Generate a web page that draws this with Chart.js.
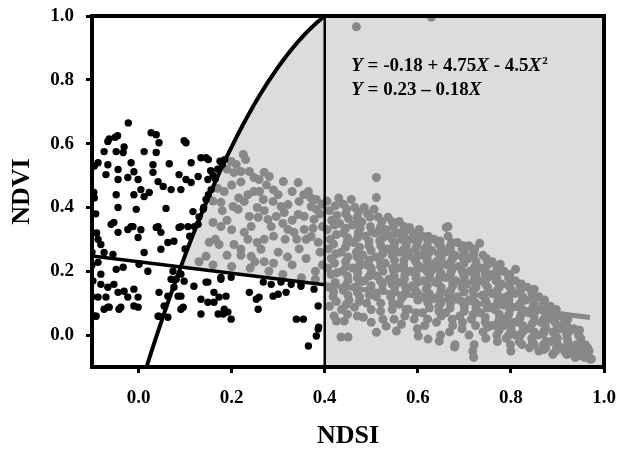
<!DOCTYPE html>
<html>
<head>
<meta charset="utf-8">
<script src="https://cdn.jsdelivr.net/npm/chart.js@4.4.0/dist/chart.umd.min.js"></script>
<style>html,body{margin:0;padding:0;background:#fff;}canvas{display:block;}</style>
</head>
<body>
<canvas id="c" width="619" height="449"></canvas>
<script>
// ---- data ----
const xTicks = [0.0, 0.2, 0.4, 0.6, 0.8, 1.0];
const yTicks = [0.0, 0.2, 0.4, 0.6, 0.8, 1.0];
const xRange = [-0.1, 1.0];
const yRange = [-0.1, 1.0];
const quadFit = [-0.18, 4.75, -4.5];   // Y = a + bX + cX^2
const linFit = [0.23, -0.18];          // Y = a + bX
const splitX = 0.4;
const linEndX = 0.97;

const blackPts = [
[-0.022,0.665],[-0.05,0.62],[-0.045,0.625],[-0.063,0.615],[-0.066,0.607],[0.027,0.634],[0.038,0.628],[0.044,0.603],
[0.098,0.609],[0.102,0.603],[-0.074,0.575],[-0.048,0.575],[-0.031,0.59],[-0.033,0.572],[0.012,0.575],[0.038,0.572],
[0.113,0.54],[0.134,0.556],[0.145,0.556],[-0.087,0.54],[-0.066,0.534],[-0.07,0.503],[-0.044,0.519],[-0.016,0.54],
[-0.01,0.512],[0.031,0.534],[0.031,0.51],[0.066,0.537],[0.087,0.503],[-0.044,0.4875],[-0.023,0.494],[-0.001,0.4875],
[0.005,0.456],[0.023,0.447],[0.042,0.481],[0.053,0.466],[0.07,0.456],[0.091,0.456],[0.102,0.4875],[0.113,0.478],
[0.128,0.497],[0.149,0.4875],[0.156,0.456],[0.145,0.425],[-0.096,0.447],[-0.048,0.44],[-0.01,0.44],[0.012,0.434],
[-0.044,0.4],[-0.005,0.394],[0.059,0.397],[0.117,0.387],[0.139,0.394],[-0.053,0.353],[-0.016,0.34],[0.005,0.33],
[0.042,0.34],[0.087,0.3375],[0.106,0.34],[0.128,0.347],
[-0.059,0.347],[-0.044,0.322],[-0.023,0.331],[-0.001,0.306],[-0.012,0.34],[0.038,0.3375],[0.048,0.322],[0.091,0.34],
[0.076,0.294],[0.063,0.29],[0.048,0.269],[0.012,0.259],[-0.087,0.3],[-0.081,0.284],[-0.074,0.259],[-0.055,0.253],
[0.16,0.5],[0.17,0.52],[0.175,0.545],[0.18,0.535],[0.165,0.49],[0.15,0.44],[0.14,0.4],[0.13,0.37],[0.12,0.34],
[0.11,0.31],[0.1,0.27],[0.185,0.55],[0.155,0.515],[0.15,0.55],
[-0.095,0.53],[-0.095,0.43],[-0.1,0.26],[-0.1,0.22],[-0.098,0.17],[-0.1,0.12],[-0.095,0.06],[-0.09,0.32],[-0.092,0.38],
[-0.087,0.228],[-0.081,0.191],[-0.081,0.159],[-0.087,0.119],[-0.066,0.15],[-0.07,0.119],[-0.066,0.0875],[-0.048,0.206],
[-0.033,0.2125],[-0.053,0.159],[-0.044,0.134],[-0.031,0.1375],[-0.023,0.119],[-0.038,0.0875],[-0.01,0.144],[-0.001,0.119],
[-0.001,0.0875],[0.001,0.222],[0.02,0.2],[0.044,0.134],[0.042,0.059],[0.063,0.056],[0.081,0.175],[0.091,0.122],
[0.096,0.0875],[0.119,0.153],[0.134,0.1125],[0.134,0.066],[0.145,0.166],[0.162,0.134],[0.173,0.119],[0.171,0.066],
[0.192,0.072],[0.199,0.05],[0.177,0.181],[0.199,0.181],[0.238,0.134],[0.253,0.1125],[0.257,0.081],[0.3,0.128],
[0.285,0.159],[0.339,0.05],[0.354,0.05],[0.365,-0.034],[0.382,-0.003],[0.387,0.025],[0.328,0.159],[0.349,0.159],
[0.149,0.166],[0.177,0.175],[0.268,0.166],[0.306,0.166],[0.349,0.153],[0.377,0.144],[0.386,0.091],[0.386,0.019],
[0.259,0.119],[0.289,0.122],[0.317,0.134],[0.188,0.122],[0.149,0.103],[0.162,0.103],[0.184,0.081],[0.182,0.066],
[0.07,0.175],[0.076,0.15],[0.063,0.122],[0.055,0.091],[0.044,0.059],[0.085,0.122],[0.091,0.081],[0.074,0.2],
[0.091,0.191],[0.098,0.169],[-0.091,0.059],[-0.074,0.081],[-0.063,0.0875],[-0.042,0.081],[-0.01,0.091]
];

const grayPts = [
[0.225,0.566],[0.199,0.544],[0.205,0.509],[0.22,0.5125],[0.238,0.5125],[0.248,0.494],[0.259,0.4875],[0.281,0.497],
[0.311,0.481],[0.343,0.478],[0.365,0.45],[0.382,0.425],[0.184,0.45],[0.203,0.403],[0.227,0.419],[0.248,0.45],
[0.268,0.425],[0.289,0.419],[0.306,0.403],[0.321,0.409],[0.345,0.419],[0.371,0.403],[0.382,0.394],[0.177,0.416],
[0.214,0.394],[0.238,0.372],[0.257,0.369],[0.278,0.3625],[0.296,0.372],[0.313,0.384],[0.343,0.378],[0.356,0.372],
[0.377,0.3625],[0.16,0.353],[0.177,0.34],[0.152,0.291],[0.173,0.284],[0.227,0.322],[0.242,0.34],[0.285,0.34],
[0.321,0.331],[0.334,0.322],[0.356,0.331],[0.371,0.309],[0.386,0.291],[0.205,0.284],[0.22,0.269],[0.242,0.247],
[0.145,0.247],[0.263,0.269],[0.13,0.23],[0.16,0.22],[0.2,0.215],[0.24,0.21],[0.28,0.2],[0.31,0.19],[0.35,0.18],
[0.38,0.175],[0.27,0.23],[0.33,0.22],[0.36,0.24],[0.22,0.25],[0.3,0.26],[0.345,0.27],[0.39,0.26],[0.19,0.52],
[0.17,0.46],[0.16,0.42],
[0.26,0.45],[0.275,0.47],[0.29,0.455],[0.3,0.44],[0.33,0.45],[0.355,0.44],[0.37,0.43],[0.395,0.41],[0.39,0.38],
[0.395,0.34],[0.375,0.335],[0.36,0.3],[0.34,0.3],[0.315,0.3],[0.29,0.31],[0.27,0.3],[0.255,0.29],[0.235,0.3],
[0.2,0.33],[0.19,0.36],[0.2,0.47],[0.22,0.48],[0.235,0.44],[0.18,0.39],[0.165,0.3],[0.19,0.25],[0.25,0.23],
[0.29,0.225],[0.32,0.245],[0.38,0.2],[0.395,0.22],[0.31,0.35],[0.33,0.36],[0.27,0.39],[0.255,0.4],[0.215,0.43],
[0.23,0.55],[0.21,0.535],[0.27,0.51],
[0.405,0.42],[0.41,0.39],[0.415,0.36],[0.405,0.33],[0.412,0.30],[0.408,0.27],[0.414,0.24],[0.406,0.21],[0.414,0.19],
[0.41,0.15],[0.418,0.12],[0.41,0.09],[0.42,0.06],[0.425,0.044],[0.435,-0.006],
[0.43,0.43],[0.44,0.41],[0.445,0.38],[0.432,0.35],[0.44,0.32],[0.448,0.29],[0.435,0.26],[0.445,0.23],[0.438,0.2],
[0.45,0.17],[0.44,0.14],[0.452,0.11],[0.442,0.044],[0.45,-0.006],[0.436,0.08],
[0.457,0.425],[0.465,0.40],[0.47,0.37],[0.46,0.345],[0.472,0.32],[0.462,0.29],[0.468,0.26],[0.475,0.235],[0.46,0.21],
[0.47,0.18],[0.465,0.15],[0.475,0.12],[0.464,0.0875],[0.47,0.06],
[0.485,0.40],[0.492,0.38],[0.48,0.355],[0.498,0.34],[0.488,0.31],[0.495,0.28],[0.482,0.25],[0.49,0.22],[0.5,0.2],
[0.485,0.17],[0.495,0.14],[0.483,0.056],[0.5,0.04],[0.49,0.1],
[0.506,0.394],[0.511,0.494],[0.511,0.431],[0.515,0.37],[0.52,0.34],[0.508,0.32],[0.518,0.295],[0.525,0.27],[0.51,0.245],
[0.52,0.215],[0.512,0.185],[0.524,0.16],[0.511,0.12],[0.511,0.009],[0.52,0.075],
[0.536,0.369],[0.545,0.355],[0.532,0.33],[0.54,0.31],[0.55,0.29],[0.535,0.27],[0.545,0.25],[0.53,0.225],[0.548,0.2],
[0.538,0.175],[0.55,0.15],[0.542,0.12],[0.532,0.028],[0.554,0.0125],[0.545,0.08],
[0.56,0.356],[0.57,0.34],[0.558,0.32],[0.565,0.3],[0.575,0.28],[0.56,0.26],[0.57,0.235],[0.558,0.21],[0.572,0.19],
[0.56,0.165],[0.575,0.14],[0.565,0.115],[0.56,0.097],[0.565,0.034],[0.572,0.06],
[0.582,0.3375],[0.59,0.32],[0.603,0.331],[0.585,0.3],[0.598,0.28],[0.58,0.26],[0.592,0.24],[0.6,0.22],[0.585,0.2],
[0.596,0.18],[0.588,0.155],[0.6,0.13],[0.58,0.081],[0.601,-0.003],[0.592,0.05],
[0.61,0.31],[0.622,0.294],[0.615,0.27],[0.607,0.25],[0.62,0.23],[0.61,0.21],[0.625,0.19],[0.612,0.17],[0.618,0.145],
[0.608,0.12],[0.622,0.1],[0.622,-0.0125],[0.615,0.03],[0.61,0.07],
[0.635,0.3],[0.645,0.285],[0.63,0.265],[0.65,0.25],[0.64,0.23],[0.632,0.205],[0.648,0.185],[0.638,0.165],[0.65,0.14],
[0.635,0.115],[0.645,0.09],[0.646,-0.019],[0.64,0.04],[0.65,0.06],
[0.661,0.3375],[0.665,0.31],[0.665,0.34],[0.67,0.28],[0.658,0.26],[0.675,0.24],[0.662,0.22],[0.672,0.2],[0.66,0.18],
[0.675,0.155],[0.665,0.13],[0.67,0.1],[0.66,0.07],[0.675,0.03],[0.668,0.01],
[0.685,0.29],[0.695,0.27],[0.68,0.25],[0.7,0.235],[0.688,0.215],[0.698,0.19],[0.682,0.17],[0.695,0.15],[0.685,0.12],
[0.7,0.09],[0.69,0.06],[0.679,-0.0375],[0.68,-0.03],[0.695,0.02],
[0.71,0.28],[0.72,0.26],[0.708,0.24],[0.725,0.22],[0.712,0.2],[0.722,0.18],[0.706,0.16],[0.718,0.14],[0.71,0.11],
[0.725,0.085],[0.715,0.05],[0.72,-0.07],[0.718,-0.05],[0.71,0.0],
[0.733,0.2875],[0.74,0.25],[0.75,0.23],[0.735,0.21],[0.745,0.19],[0.732,0.17],[0.75,0.15],[0.738,0.125],[0.748,0.1],
[0.735,0.07],[0.745,0.04],[0.74,0.01],
[0.76,0.23],[0.77,0.21],[0.758,0.19],[0.777,0.222],[0.768,0.17],[0.775,0.15],[0.76,0.13],[0.772,0.11],[0.765,0.08],
[0.775,0.05],[0.76,0.03],[0.77,0.0],
[0.785,0.2],[0.795,0.18],[0.78,0.16],[0.8,0.145],[0.79,0.12],[0.782,0.1],[0.798,0.08],[0.788,0.05],[0.8,0.02],
[0.8,-0.05],[0.79,-0.01],[0.785,0.03],
[0.81,0.206],[0.81,0.17],[0.82,0.15],[0.808,0.13],[0.825,0.11],[0.815,0.09],[0.822,0.065],[0.81,0.04],[0.825,0.01],
[0.818,-0.02],[0.81,0.0],
[0.835,0.15],[0.845,0.13],[0.85,0.144],[0.832,0.11],[0.848,0.09],[0.838,0.07],[0.85,0.045],[0.835,0.02],[0.845,-0.01],
[0.84,-0.04],[0.85,-0.03],
[0.86,0.12],[0.87,0.1],[0.858,0.08],[0.875,0.06],[0.865,0.04],[0.872,0.015],[0.858,0.0],[0.87,-0.03],[0.86,-0.05],[0.875,-0.04],
[0.885,0.09],[0.895,0.07],[0.882,0.05],[0.9,0.03],[0.89,0.01],[0.885,-0.02],[0.898,-0.04],[0.89,-0.06],[0.9,-0.01],
[0.91,0.06],[0.92,0.003],[0.915,0.04],[0.908,0.02],[0.922,-0.02],[0.91,-0.04],[0.92,-0.06],[0.915,-0.05],
[0.935,0.02],[0.945,0.0],[0.94,-0.03],[0.932,-0.05],[0.948,-0.06],[0.938,-0.07],[0.95,-0.04],
[0.96,-0.03],[0.965,-0.06],[0.97,-0.075],[0.958,-0.07],[0.973,-0.075],[0.968,-0.05],
[0.468,0.966],[0.629,0.997],
[0.4225,0.405],[0.426,0.375],[0.4205,0.345],[0.425,0.315],[0.419,0.285],[0.4245,0.255],[0.421,0.225],[0.426,0.195],[0.4225,0.165],[0.419,0.135],[0.425,0.105],
[0.4475,0.395],[0.451,0.365],[0.445,0.335],[0.449,0.305],[0.4445,0.275],[0.45,0.245],[0.446,0.215],[0.449,0.185],[0.4445,0.155],[0.45,0.125],[0.446,0.095],[0.449,0.065],
[0.4725,0.385],[0.47,0.355],[0.476,0.335],[0.4705,0.305],[0.475,0.275],[0.4695,0.245],[0.474,0.215],[0.471,0.195],[0.4755,0.165],[0.47,0.135],[0.474,0.105],
[0.4975,0.37],[0.501,0.325],[0.495,0.295],[0.4995,0.265],[0.496,0.235],[0.5,0.21],[0.4955,0.185],[0.4995,0.155],[0.496,0.125],[0.5,0.08],
[0.5225,0.355],[0.519,0.33],[0.525,0.305],[0.5205,0.28],[0.5245,0.255],[0.52,0.23],[0.525,0.2],[0.5195,0.17],[0.524,0.14],[0.5205,0.1],[0.525,0.05],
[0.5475,0.34],[0.551,0.32],[0.545,0.3],[0.5495,0.28],[0.5445,0.26],[0.55,0.235],[0.546,0.21],[0.5495,0.185],[0.5445,0.16],[0.55,0.135],[0.546,0.1],[0.549,0.05],
[0.5725,0.325],[0.5695,0.31],[0.575,0.29],[0.5705,0.27],[0.5745,0.245],[0.5695,0.22],[0.575,0.2],[0.571,0.175],[0.574,0.15],[0.57,0.125],[0.5745,0.08],
[0.5975,0.315],[0.6,0.295],[0.595,0.27],[0.5995,0.25],[0.5955,0.23],[0.6,0.21],[0.596,0.19],[0.5995,0.165],[0.595,0.14],[0.6,0.11],[0.596,0.07],[0.599,0.02],
[0.6225,0.31],[0.62,0.28],[0.625,0.26],[0.6205,0.24],[0.6245,0.22],[0.62,0.2],[0.625,0.18],[0.6205,0.155],[0.6245,0.13],[0.6195,0.11],[0.625,0.085],[0.621,0.05],
[0.6475,0.295],[0.6505,0.275],[0.645,0.255],[0.65,0.24],[0.6455,0.215],[0.6495,0.195],[0.645,0.175],[0.65,0.15],[0.646,0.125],[0.6495,0.1],[0.6455,0.075],[0.649,0.0],
[0.6725,0.29],[0.67,0.27],[0.675,0.25],[0.6705,0.23],[0.6745,0.21],[0.67,0.19],[0.675,0.165],[0.6705,0.14],[0.6745,0.115],[0.6695,0.085],[0.674,0.05],
[0.6975,0.28],[0.7,0.26],[0.695,0.245],[0.6995,0.225],[0.6955,0.2],[0.7,0.18],[0.6955,0.16],[0.6995,0.135],[0.695,0.105],[0.7,0.075],[0.696,0.04],
[0.7225,0.27],[0.72,0.25],[0.725,0.23],[0.7205,0.21],[0.7245,0.19],[0.72,0.17],[0.725,0.15],[0.7205,0.125],[0.7245,0.1],[0.7195,0.065],[0.724,0.03],[0.721,-0.03],
[0.7475,0.24],[0.75,0.22],[0.745,0.2],[0.7495,0.18],[0.7455,0.16],[0.75,0.135],[0.7455,0.11],[0.7495,0.085],[0.745,0.055],[0.75,0.025],[0.746,-0.01],
[0.7725,0.2],[0.77,0.18],[0.775,0.16],[0.7705,0.14],[0.7745,0.12],[0.77,0.095],[0.775,0.065],[0.7705,0.035],[0.7745,0.015],[0.771,-0.02],
[0.7975,0.19],[0.8,0.17],[0.795,0.155],[0.7995,0.13],[0.7955,0.11],[0.8,0.09],[0.7955,0.065],[0.7995,0.04],[0.795,0.0],[0.799,-0.03],
[0.8225,0.16],[0.82,0.14],[0.825,0.12],[0.8205,0.1],[0.8245,0.08],[0.82,0.055],[0.825,0.03],[0.8205,0.0],[0.824,-0.03],
[0.8475,0.12],[0.85,0.1],[0.845,0.08],[0.8495,0.06],[0.8455,0.035],[0.85,0.01],[0.846,-0.02],
[0.8725,0.11],[0.87,0.09],[0.875,0.07],[0.8705,0.05],[0.8745,0.025],[0.87,0.005],[0.875,-0.02],[0.871,-0.045],
[0.8975,0.08],[0.9,0.06],[0.895,0.04],[0.8995,0.02],[0.8955,0.0],[0.9,-0.03],[0.896,-0.05],
[0.9225,0.05],[0.92,0.03],[0.925,0.01],[0.9205,-0.01],[0.9245,-0.035],[0.921,-0.06],
[0.9475,0.015],[0.95,-0.01],[0.945,-0.03],[0.9495,-0.05],[0.946,-0.065],
[0.965,-0.04],[0.962,-0.065]
];

// ---- derived fit curves (from the printed equations) ----
const quad = x => quadFit[0] + quadFit[1]*x + quadFit[2]*x*x;
const lin = x => linFit[0] + linFit[1]*x;
function quadRoot(yv){
  const a=quadFit[2], b=quadFit[1], c=quadFit[0]-yv;
  const d=Math.sqrt(b*b-4*a*c);
  return Math.min((-b+d)/(2*a),(-b-d)/(2*a));
}
function crossX(){
  const a=quadFit[2], b=quadFit[1]-linFit[1], c=quadFit[0]-linFit[0];
  const d=Math.sqrt(b*b-4*a*c);
  return Math.min((-b+d)/(2*a),(-b-d)/(2*a));
}
const quadCurve = [];
{
  const x0 = quadRoot(yRange[0]);
  const n = 80;
  for (let i=0;i<=n;i++){ const x = x0 + (splitX-x0)*i/n; quadCurve.push({x, y: quad(x)}); }
}
const linBlack = [{x:xRange[0], y:lin(xRange[0])},{x:splitX, y:lin(splitX)}];
const linGray = [{x:splitX, y:lin(splitX)},{x:linEndX, y:lin(linEndX)}];
const vLine = [{x:splitX, y:yRange[0]},{x:splitX, y:yRange[1]}];

const SERIF = '"Liberation Serif", "Times New Roman", serif';
const GRAY = '#888888';
const SHADE = '#dcdcdc';

const shadePlugin = {
  id:'shade',
  beforeDatasetsDraw(chart){
    const {ctx, scales:{x,y}, chartArea:ca} = chart;
    const xc = crossX();
    ctx.save();
    ctx.beginPath();
    ctx.rect(ca.left, ca.top, ca.right-ca.left, ca.bottom-ca.top);
    ctx.clip();
    ctx.beginPath();
    const n=60;
    for (let i=0;i<=n;i++){
      const xv = xc + (splitX-xc)*i/n;
      const px = x.getPixelForValue(xv), py = y.getPixelForValue(quad(xv));
      if(i===0) ctx.moveTo(px,py); else ctx.lineTo(px,py);
    }
    ctx.lineTo(x.getPixelForValue(xRange[1]), y.getPixelForValue(yRange[1]));
    ctx.lineTo(x.getPixelForValue(xRange[1]), y.getPixelForValue(yRange[0]));
    ctx.lineTo(x.getPixelForValue(splitX), y.getPixelForValue(yRange[0]));
    ctx.lineTo(x.getPixelForValue(splitX), y.getPixelForValue(lin(splitX)));
    ctx.lineTo(x.getPixelForValue(xc), y.getPixelForValue(lin(xc)));
    ctx.closePath();
    ctx.fillStyle = SHADE;
    ctx.fill();
    ctx.restore();
  },
  afterDatasetsDraw(chart){
    const {ctx, chartArea:ca, scales:{x,y}} = chart;
    ctx.save();
    ctx.strokeStyle='#000'; ctx.lineWidth=4;
    ctx.strokeRect(ca.left, ca.top, ca.right-ca.left, ca.bottom-ca.top);
    const lines = [
      [['Y','i'],[' = -0.18 + 4.75','n'],['X','i'],[' - 4.5','n'],['X','i'],['2','s']],
      [['Y','i'],[' = 0.23 \u2013 0.18','n'],['X','i']]
    ];
    const ys = [0.828, 0.753];
    const fs = 19;
    ctx.fillStyle='#000';
    ctx.textBaseline='alphabetic';
    lines.forEach((segs,li)=>{
      let px = x.getPixelForValue(0.457);
      const py = y.getPixelForValue(ys[li]);
      segs.forEach(([t,k])=>{
        if(k==='i') ctx.font = `italic bold ${fs}px ${SERIF}`;
        else if(k==='s') ctx.font = `bold ${Math.round(fs*0.6)}px ${SERIF}`;
        else ctx.font = `bold ${fs}px ${SERIF}`;
        const dy = k==='s' ? -7 : 0;
        ctx.fillText(t, px + (k==='s'?1:0), py+dy);
        px += ctx.measureText(t).width;
      });
    });
    ctx.restore();
  }
};

new Chart(document.getElementById('c'), {
  type:'scatter',
  data:{
    datasets:[
      {data:vLine, showLine:true, borderColor:'#000', borderWidth:2.5, pointRadius:0, order:0, clip:0},
      {data:quadCurve, showLine:true, borderColor:'#000', borderWidth:4, pointRadius:0, order:1, clip:0, tension:0},
      {data:linBlack, showLine:true, borderColor:'#000', borderWidth:3.5, pointRadius:0, order:2, clip:0},
      {data:linGray, showLine:true, borderColor:GRAY, borderWidth:5, pointRadius:0, order:3, clip:0},
      {data:blackPts.map(p=>({x:p[0],y:p[1]})), backgroundColor:'#000', borderWidth:0, pointRadius:3.7, order:4, clip:0},
      {data:grayPts.map(p=>({x:p[0],y:p[1]})), backgroundColor:GRAY, borderWidth:0, pointRadius:4.5, order:5, clip:0}
    ]
  },
  options:{
    responsive:false, animation:false, devicePixelRatio:1,
    layout:{padding:{top:16,right:15,left:0,bottom:0}},
    plugins:{legend:{display:false}, tooltip:{enabled:false}},
    scales:{
      x:{
        type:'linear', min:xRange[0], max:xRange[1],
        afterBuildTicks(s){ s.ticks = xTicks.map(v=>({value:v})); },
        afterFit(s){ s.height = 82; s.paddingLeft = 0; s.paddingRight = 0; },
        grid:{drawOnChartArea:false, drawTicks:true, tickLength:6, tickWidth:3, tickColor:'#000'},
        border:{display:false},
        ticks:{color:'#000', padding:14, maxRotation:0, font:{family:SERIF, size:19, weight:'bold'}, callback:v=>Number(v).toFixed(1)},
        title:{display:true, text:'NDSI', color:'#000', padding:{top:0,bottom:0}, font:{family:SERIF, size:26, weight:'bold', lineHeight:1}}
      },
      y:{
        type:'linear', min:yRange[0], max:yRange[1],
        afterBuildTicks(s){ s.ticks = yTicks.map(v=>({value:v})); },
        afterFit(s){ s.width = 92; s.paddingTop = 0; s.paddingBottom = 0; },
        grid:{drawOnChartArea:false, drawTicks:true, tickLength:6, tickWidth:3, tickColor:'#000'},
        border:{display:false},
        ticks:{color:'#000', padding:12, font:{family:SERIF, size:19, weight:'bold'}, callback:v=>Number(v).toFixed(1)},
        title:{display:true, text:'NDVI', color:'#000', padding:{top:9,bottom:0}, font:{family:SERIF, size:26, weight:'bold', lineHeight:1}}
      }
    }
  },
  plugins:[shadePlugin]
});
</script>
</body>
</html>
